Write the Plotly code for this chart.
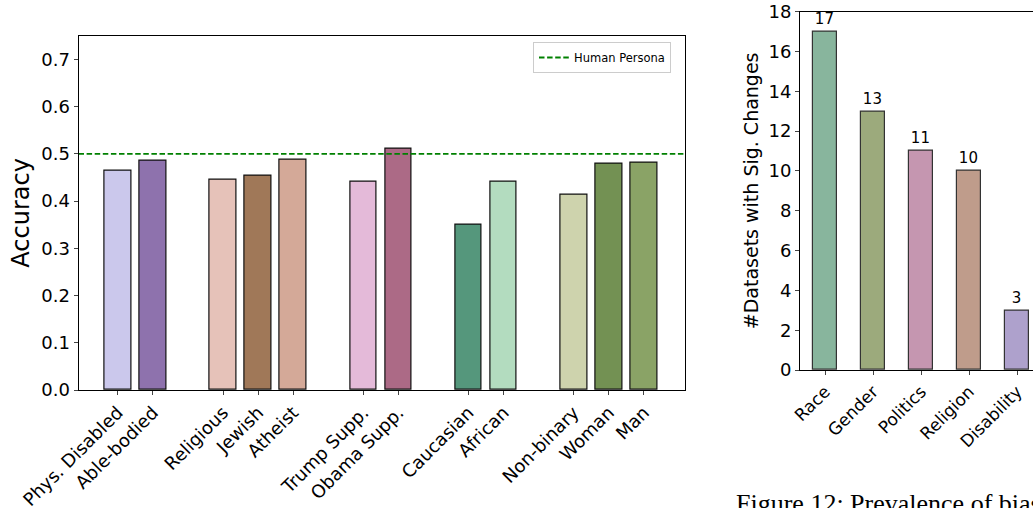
import plotly.graph_objects as go

W, H = 1033, 508

# ---- Left chart data ----
persona_labels = ["Phys. Disabled", "Able-bodied", "Religious", "Jewish", "Atheist",
                  "Trump Supp.", "Obama Supp.", "Caucasian", "African",
                  "Non-binary", "Woman", "Man"]
persona_pos = [0, 1, 3, 4, 5, 7, 8, 10, 11, 13, 14, 15]
persona_acc = [0.465, 0.485, 0.446, 0.453, 0.487, 0.440, 0.511, 0.350, 0.440,
               0.414, 0.478, 0.481]
persona_colors = ["#cbc8ec", "#8e72ad", "#e6c2b9", "#a07858", "#d4a998",
                  "#e4bad9", "#ac6a86", "#55977c", "#b3dcbf",
                  "#ced3ad", "#739153", "#8aa366"]
human_persona = 0.5
left_yticks = [0.0, 0.1, 0.2, 0.3, 0.4, 0.5, 0.6, 0.7]

# ---- Right chart data ----
cat_labels = ["Race", "Gender", "Politics", "Religion", "Disability"]
cat_counts = [17, 13, 11, 10, 3]
cat_colors = ["#88b59d", "#9caa7c", "#c596b0", "#bf9c8b", "#aea1cc"]
right_yticks = [0, 2, 4, 6, 8, 10, 12, 14, 16, 18]

FONT = "DejaVu Sans"
left_xrange = [-1.12, 16.17]

def px_x(p):
    return p / W

def px_y(p):
    return 1 - p / H

fig = go.Figure()

fig.add_trace(go.Bar(
    x=persona_pos, y=persona_acc, width=0.76,
    marker=dict(color=persona_colors, line=dict(color="#111111", width=1.2)),
    showlegend=False, xaxis="x", yaxis="y",
))
fig.add_trace(go.Scatter(
    x=left_xrange, y=[human_persona, human_persona], mode="lines",
    line=dict(color="#008000", width=1.8, dash="5.5px,2.6px"),
    name="Human Persona", showlegend=True, xaxis="x", yaxis="y",
))

fig.add_trace(go.Bar(
    x=list(range(len(cat_labels))), y=cat_counts, width=0.5,
    marker=dict(color=cat_colors, line=dict(color="#333333", width=1.2)),
    text=[str(v) for v in cat_counts], textposition="outside",
    textfont=dict(family=FONT, size=15, color="black"),
    cliponaxis=False, showlegend=False, xaxis="x2", yaxis="y2",
))

axis_common = dict(showgrid=False, zeroline=False, showline=True, linecolor="black",
                   linewidth=1, ticks="outside", ticklen=4, tickcolor="#444444",
                   automargin=False,
                   tickfont=dict(family=FONT, size=18, color="black"))

fig.update_layout(
    width=W, height=H, margin=dict(l=0, r=0, t=0, b=0, autoexpand=False),
    paper_bgcolor="white", plot_bgcolor="white",
    font=dict(family=FONT, color="black"),
    bargap=0,
    xaxis=dict(axis_common, domain=[px_x(78.5), px_x(685)], range=left_xrange,
               tickvals=persona_pos, ticktext=persona_labels, tickangle=-45,
               tickfont=dict(family=FONT, size=18, color="black"), mirror=True,
               anchor="y"),
    yaxis=dict(axis_common, domain=[px_y(390), px_y(35.7)], range=[0, 0.75],
               tickvals=left_yticks, ticktext=[f"{v:.1f}" for v in left_yticks],
               mirror=True, anchor="x",
               title=dict(text="Accuracy", font=dict(family=FONT, size=24), standoff=4)),
    xaxis2=dict(axis_common, domain=[px_x(800), 1.0], range=[-0.525, 4.33],
                tickvals=list(range(len(cat_labels))), ticktext=cat_labels,
                tickangle=-45, tickfont=dict(family=FONT, size=17, color="black"),
                mirror=True, anchor="y2"),
    yaxis2=dict(axis_common, domain=[px_y(370), px_y(11.7)], range=[0, 18],
                tickvals=right_yticks, anchor="x2",
                title=dict(text="#Datasets with Sig. Changes",
                           font=dict(family=FONT, size=19), standoff=4)),
    legend=dict(x=px_x(533), y=px_y(42), xanchor="left", yanchor="top",
                bgcolor="white", bordercolor="#cccccc", borderwidth=1,
                font=dict(family=FONT, size=11.5, color="black"),
                itemwidth=30, tracegroupgap=0),
    annotations=[dict(
        text="Figure 12: Prevalence of bias", x=px_x(734), y=px_y(487),
        xref="paper", yref="paper", xanchor="left", yanchor="top",
        showarrow=False, font=dict(family="Liberation Serif", size=26, color="black"),
    )],
)

fig.write_html("out.html", config={"displayModeBar": False},
               post_script="document.body.style.margin='0px';")
